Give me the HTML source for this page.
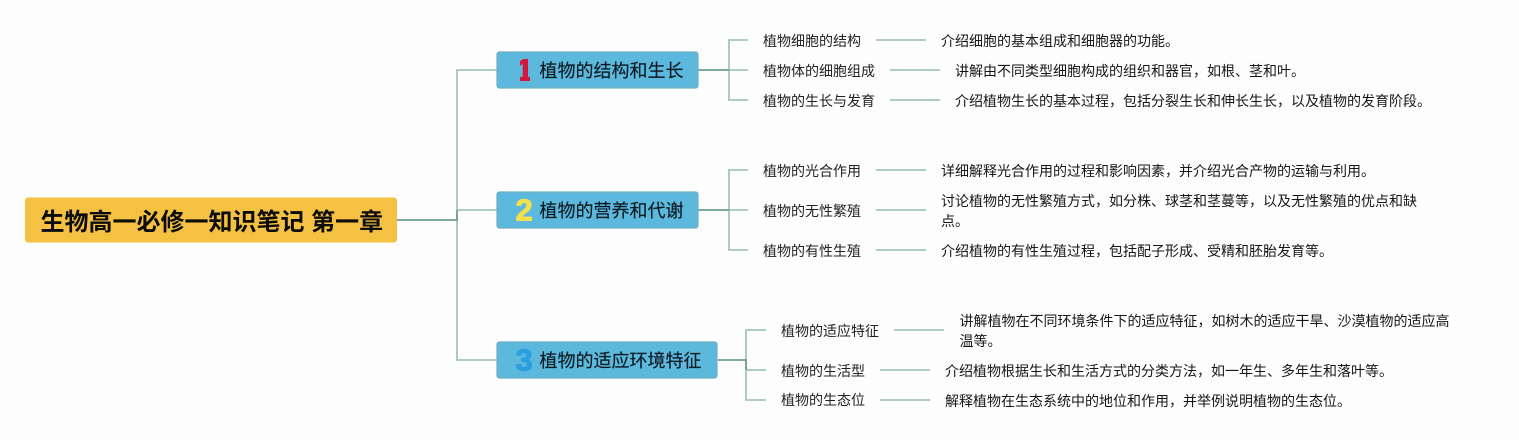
<!DOCTYPE html>
<html><head><meta charset="utf-8"><style>
html,body{margin:0;padding:0;background:#fdfdfd}
svg{display:block}
text{font-family:"Liberation Sans","Noto Sans CJK SC",sans-serif;fill:#222}
.m{font-size:18px;fill:#0e1a22;stroke:#0e1a22;stroke-width:.15px}
.s{font-size:14px;fill:#222}
.d{font-size:14px;fill:#161616}
.n{font-family:"Liberation Sans",sans-serif;font-size:31px;font-weight:bold;stroke-width:1px;stroke-linejoin:round}
</style></head><body>
<svg width="1519" height="440" viewBox="0 0 1519 440" xmlns="http://www.w3.org/2000/svg">
<defs><clipPath id="c1"><rect x="520" y="50" width="10" height="38"/></clipPath></defs>
<rect width="1519" height="440" fill="#fdfdfd"/>
<g fill="none" stroke="#a3c7ba" stroke-width="1.8">
<path d="M497 70H457V360H497M457 210H497"/>
<path d="M748 40H729V100H748M729 70H748"/>
<path d="M748 170H729V250H748M729 210H748"/>
<path d="M766 330H746V400H766M746 370H766"/>
<path d="M876 40H926M890 70H940M890 100H940"/>
<path d="M876 170H926M876 210H926M876 250H926"/>
<path d="M894 330H944M880 370H930M880 400H930"/>
</g>
<g fill="none" stroke="#6f9f90" stroke-width="1.8">
<path d="M397 220H457V210"/>
<path d="M698 70H729M698 210H729M718 360H746V370"/>
</g>
<rect x="25" y="197.5" width="372" height="45" rx="3" fill="#f4c142"/>
<text x="40.5" y="230" font-size="24" font-weight="bold" style="fill:#0c0c0c">生物高一必修一知识笔记 第一章</text>
<g fill="#5cb8dc" stroke="#6fb0c0" stroke-width="1.2">
<rect x="497" y="52" width="201" height="36" rx="2.5"/>
<rect x="497" y="192" width="201" height="36" rx="2.5"/>
<rect x="497" y="342" width="220" height="36" rx="2.5"/>
</g>
<text class="n" x="516" y="80.5" clip-path="url(#c1)" style="fill:#d6163a;stroke:#d6163a">1</text>
<text class="n" x="515.5" y="220.5" style="fill:#f3e04e;stroke:#f3e04e">2</text>
<text class="n" x="515.5" y="370.5" style="fill:#2a9fe0;stroke:#2a9fe0">3</text>
<text class="m" x="539.5" y="77">植物的结构和生长</text>
<text class="m" x="539.5" y="217">植物的营养和代谢</text>
<text class="m" x="539.5" y="367">植物的适应环境特征</text>
<text class="s" x="763" y="46">植物细胞的结构</text>
<text class="s" x="763" y="76">植物体的细胞组成</text>
<text class="s" x="763" y="106">植物的生长与发育</text>
<text class="s" x="763" y="176">植物的光合作用</text>
<text class="s" x="763" y="216">植物的无性繁殖</text>
<text class="s" x="763" y="256">植物的有性生殖</text>
<text class="s" x="781" y="336">植物的适应特征</text>
<text class="s" x="781" y="376">植物的生活型</text>
<text class="s" x="781" y="405">植物的生态位</text>
<text class="d" x="941" y="46">介绍细胞的基本组成和细胞器的功能。</text>
<text class="d" x="955" y="76">讲解由不同类型细胞构成的组织和器官，如根、茎和叶。</text>
<text class="d" x="955" y="106">介绍植物生长的基本过程，包括分裂生长和伸长生长，以及植物的发育阶段。</text>
<text class="d" x="941" y="176">详细解释光合作用的过程和影响因素，并介绍光合产物的运输与利用。</text>
<text class="d" x="941" y="206">讨论植物的无性繁殖方式，如分株、球茎和茎蔓等，以及无性繁殖的优点和缺</text>
<text class="d" x="941" y="226">点。</text>
<text class="d" x="941" y="256">介绍植物的有性生殖过程，包括配子形成、受精和胚胎发育等。</text>
<text class="d" x="959.5" y="326">讲解植物在不同环境条件下的适应特征，如树木的适应干旱、沙漠植物的适应高</text>
<text class="d" x="959.5" y="346">温等。</text>
<text class="d" x="945" y="376">介绍植物根据生长和生活方式的分类方法，如一年生、多年生和落叶等。</text>
<text class="d" x="945" y="406">解释植物在生态系统中的地位和作用，并举例说明植物的生态位。</text>
</svg>
</body></html>
